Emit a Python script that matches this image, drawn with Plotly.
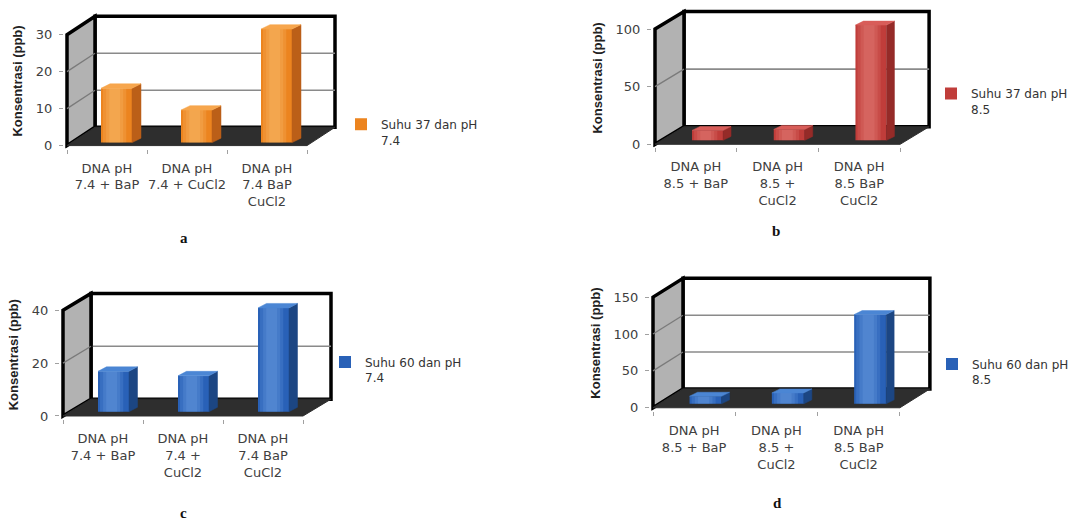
import plotly.graph_objects as go

FIG_W, FIG_H = 1081, 523

# ---------------- data ----------------
labels_a = ["DNA pH<br>7.4 + BaP", "DNA pH<br>7.4 + CuCl2", "DNA pH<br>7.4 BaP<br>CuCl2"]
labels_b = ["DNA pH<br>8.5 + BaP", "DNA pH<br>8.5 +<br>CuCl2", "DNA pH<br>8.5 BaP<br>CuCl2"]
labels_c = ["DNA pH<br>7.4 + BaP", "DNA pH<br>7.4 +<br>CuCl2", "DNA pH<br>7.4 BaP<br>CuCl2"]
labels_d = ["DNA pH<br>8.5 + BaP", "DNA pH<br>8.5 +<br>CuCl2", "DNA pH<br>8.5 BaP<br>CuCl2"]

values_a = [14.7, 8.8, 30.7]
values_b = [8.6, 9.5, 100]
values_c = [15.3, 13.6, 39.3]
values_d = [10.3, 14.8, 121]

yticks_a = [0, 10, 20, 30]
yticks_b = [0, 50, 100]
yticks_c = [0, 20, 40]
yticks_d = [0, 50, 100, 150]

series_a = "Suhu 37 dan pH<br>7.4"
series_b = "Suhu 37 dan pH<br>8.5"
series_c = "Suhu 60 dan pH<br>7.4"
series_d = "Suhu 60 dan pH<br>8.5"

captions = ["a", "b", "c", "d"]

# ---------------- styling ----------------
ORANGE = dict(front="#ec841f", side="#bb5f18", top="#f7a64d", shine="rgba(255,215,150,0.16)")
RED = dict(front="#c03d3a", side="#952b28", top="#d85d59", shine="rgba(255,175,170,0.13)")
BLUE = dict(front="#2961b7", side="#1c4683", top="#4b86d4", shine="rgba(150,195,255,0.14)")

TICK_FONT = dict(family="DejaVu Sans", size=13, color="#404040")
TITLE_FONT = dict(family="Liberation Sans", size=13, color="#222222")
LEGEND_FONT = dict(family="DejaVu Sans", size=12, color="#333333")

# panel geometry in pixels: front-left corner of the floor (x0, y0), category width,
# height of the front value axis, depth offset of the walls, bar placement in depth
panels = [
    dict(labels=labels_a, values=values_a, ticks=yticks_a, name=series_a, colors=ORANGE,
         x0=67, y0=147, catw=80, axis_h=112, wdx=28, wdy=18.5,
         bsx=9.5, bsy=3, bw=31, btx=9, bty=4.5,
         legend_xy=(341, 111), caption_xy=(184, 240)),
    dict(labels=labels_b, values=values_b, ticks=yticks_b, name=series_b, colors=RED,
         x0=655, y0=145.7, catw=81.7, axis_h=116.4, wdx=29, wdy=17.7,
         bsx=11.7, bsy=4, bw=31, btx=8, bty=4,
         legend_xy=(931, 80), caption_xy=(776, 233)),
    dict(labels=labels_c, values=values_c, ticks=yticks_c, name=series_c, colors=BLUE,
         x0=63, y0=420, catw=80, axis_h=106.7, wdx=28, wdy=17,
         bsx=10.5, bsy=4.3, bw=31, btx=8.5, bty=4.5,
         legend_xy=(325, 351), caption_xy=(183, 518)),
    dict(labels=labels_d, values=values_d, ticks=yticks_d, name=series_d, colors=BLUE,
         x0=653, y0=411.7, catw=82.3, axis_h=111.7, wdx=30, wdy=19,
         bsx=11.4, bsy=4, bw=32, btx=8, bty=4,
         legend_xy=(932, 353), caption_xy=(777, 508)),
]

PAD = 3  # pixels kept around the box so its thick outline is not clipped
SHINE_WIDTHS = [0.75, 0.55, 0.35]  # nested highlight bands, as fractions of bar width

fig = go.Figure()
shapes = []
annotations = []
layout_axes = {}


def path(points):
    return "M " + " L ".join(f"{x},{y}" for x, y in points) + " Z"


for k, p in enumerate(panels, start=1):
    suffix = "" if k == 1 else str(k)
    xref, yref = f"x{suffix}", f"y{suffix}"
    ymax = p["ticks"][-1]
    ppu = p["axis_h"] / ymax          # pixels per value unit on the front plane
    ux, uy = 1.0 / p["catw"], 1.0 / ppu  # data units per pixel
    wx, wy = p["wdx"] * ux, p["wdy"] * uy

    # axis ranges and matching pixel domains
    xr = [-0.5 - PAD * ux, 2.5 + wx + PAD * ux]
    yr = [-PAD * uy, ymax + wy + PAD * uy]
    left_px = p["x0"] - PAD
    right_px = p["x0"] + 3 * p["catw"] + p["wdx"] + PAD
    top_px = p["y0"] - p["axis_h"] - p["wdy"] - PAD
    bottom_px = p["y0"] + PAD

    legend_key = "legend" if k == 1 else f"legend{k}"

    layout_axes[f"xaxis{suffix}"] = dict(
        domain=[left_px / FIG_W, right_px / FIG_W], range=xr, anchor=yref,
        showgrid=False, zeroline=False, showline=False,
        tickmode="array", tickvals=[0, 1, 2], ticktext=p["labels"],
        ticks="", tickfont=TICK_FONT, ticklabelstandoff=10,
        minor=dict(tickmode="array", tickvals=[-0.5, 0.5, 1.5, 2.5], ticks="outside",
                   ticklen=4, tickcolor="#a0a0a0", tickwidth=1, showgrid=False),
        fixedrange=True,
    )
    layout_axes[f"yaxis{suffix}"] = dict(
        domain=[1 - bottom_px / FIG_H, 1 - top_px / FIG_H], range=yr, anchor=xref,
        showgrid=False, zeroline=False, showline=False,
        tickmode="array", tickvals=p["ticks"], ticks="outside", ticklen=4,
        tickcolor="#a0a0a0", tickfont=TICK_FONT, ticklabelstandoff=4,
        title=dict(text="<b>Konsentrasi (ppb)</b>", font=TITLE_FONT, standoff=10),
        fixedrange=True,
    )

    # back wall
    shapes.append(dict(type="rect", xref=xref, yref=yref, layer="below",
                       x0=-0.5 + wx, x1=2.5 + wx, y0=wy, y1=ymax + wy,
                       fillcolor="white", line=dict(color="black", width=3.5)))
    grid = p["ticks"][1:-1]
    for g in grid:
        shapes.append(dict(type="line", xref=xref, yref=yref, layer="below",
                           x0=-0.5 + wx, x1=2.5 + wx, y0=g + wy, y1=g + wy,
                           line=dict(color="#8a8a8a", width=1.6)))
    # left side wall
    shapes.append(dict(type="path", xref=xref, yref=yref, layer="below",
                       path=path([(-0.5, 0), (-0.5, ymax), (-0.5 + wx, ymax + wy), (-0.5 + wx, wy)]),
                       fillcolor="#b2b2b2", line=dict(color="black", width=3.5)))
    for g in grid:
        shapes.append(dict(type="line", xref=xref, yref=yref, layer="below",
                           x0=-0.5, x1=-0.5 + wx, y0=g, y1=g + wy,
                           line=dict(color="#7a7a7a", width=1.3)))
    # floor
    shapes.append(dict(type="path", xref=xref, yref=yref, layer="below",
                       path=path([(-0.5, 0), (2.5, 0), (2.5 + wx, wy), (-0.5 + wx, wy)]),
                       fillcolor="#2e2e2e", line=dict(color="#2e2e2e", width=1)))

    # bar fronts
    sx, sy = p["bsx"] * ux, p["bsy"] * uy
    bw = p["bw"] * ux
    tx, ty = p["btx"] * ux, p["bty"] * uy
    xs = [i + sx for i in range(len(p["values"]))]
    fig.add_trace(go.Bar(
        x=xs, y=p["values"], base=sy, width=bw, xaxis=xref, yaxis=yref,
        marker=dict(color=p["colors"]["front"], line=dict(width=0)),
        name=p["name"], legend=legend_key, showlegend=True, hoverinfo="skip",
    ))
    # nested translucent bands give the front faces a soft sheen
    for frac in SHINE_WIDTHS:
        fig.add_trace(go.Bar(
            x=[x - 0.06 * bw for x in xs], y=p["values"], base=sy, width=frac * bw,
            xaxis=xref, yaxis=yref,
            marker=dict(color=p["colors"]["shine"], line=dict(width=0)),
            showlegend=False, hoverinfo="skip",
        ))
    # bar sides and tops
    for xc, v in zip(xs, p["values"]):
        xl, xrr = xc - bw / 2, xc + bw / 2
        side = [(xrr, sy), (xrr + tx, sy + ty), (xrr + tx, sy + ty + v), (xrr, sy + v), (xrr, sy)]
        top = [(xl, sy + v), (xrr, sy + v), (xrr + tx, sy + v + ty), (xl + tx, sy + v + ty), (xl, sy + v)]
        for poly, col in ((side, p["colors"]["side"]), (top, p["colors"]["top"])):
            fig.add_trace(go.Scatter(
                x=[q[0] for q in poly], y=[q[1] for q in poly], mode="lines",
                fill="toself", fillcolor=col, line=dict(width=0.5, color=col),
                xaxis=xref, yaxis=yref, showlegend=False, hoverinfo="skip",
            ))

    lx, ly = p["legend_xy"]
    layout_axes[legend_key] = dict(
        x=lx / FIG_W, y=1 - ly / FIG_H, xanchor="left", yanchor="top",
        font=LEGEND_FONT, bgcolor="rgba(0,0,0,0)", borderwidth=0, valign="top",
    )

    cx, cy = p["caption_xy"]
    annotations.append(dict(
        text=f"<b>{captions[k - 1]}</b>", x=cx / FIG_W, y=1 - cy / FIG_H,
        xref="paper", yref="paper", showarrow=False, xanchor="center", yanchor="middle",
        font=dict(family="Liberation Serif", size=15, color="#111111"),
    ))

fig.update_layout(
    width=FIG_W, height=FIG_H, margin=dict(l=0, r=0, t=0, b=0),
    paper_bgcolor="white", plot_bgcolor="rgba(0,0,0,0)",
    barmode="overlay",
    shapes=shapes, annotations=annotations, showlegend=True,
    **layout_axes,
)

fig.write_html("out.html")
